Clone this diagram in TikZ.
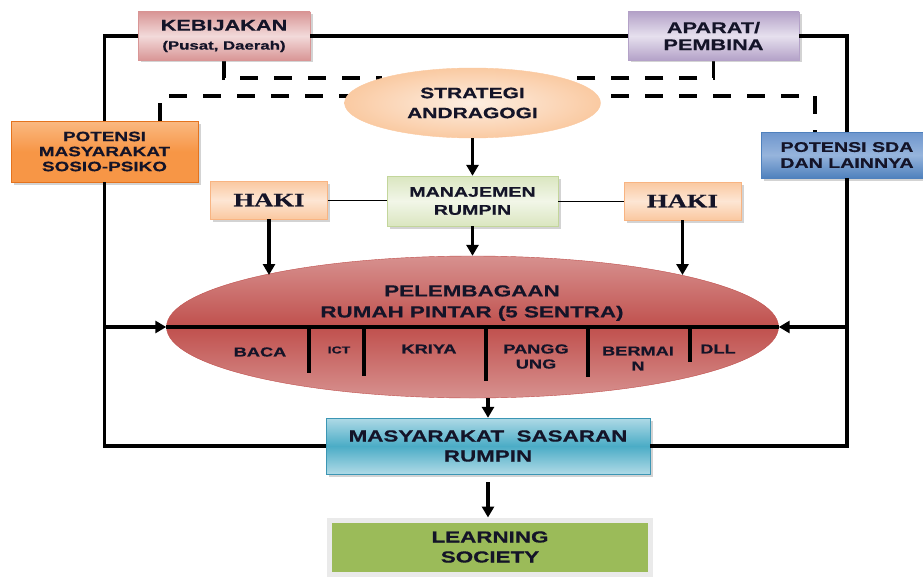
\documentclass[tikz,border=0pt]{standalone}
\usepackage{fontspec}
\usepackage{tikz}
\usetikzlibrary{positioning, arrows.meta, calc, shapes.geometric, shadows, backgrounds}
\setmainfont{Liberation Sans}[FakeStretch=1.4, BoldFeatures={FakeBold=0.6}]
\newfontfamily\hakifont{Liberation Serif}[FakeStretch=1.4, BoldFeatures={FakeBold=0.6}]
\definecolor{ink}{RGB}{20,20,40}
\definecolor{kebdark}{RGB}{217,150,150}
\definecolor{keblight}{RGB}{242,218,218}
\definecolor{apadark}{RGB}{180,162,200}
\definecolor{apalight}{RGB}{230,224,238}
\definecolor{strdark}{RGB}{250,202,162}
\definecolor{strlight}{RGB}{253,238,226}
\definecolor{pmtop}{RGB}{250,185,130}
\definecolor{pmmid}{RGB}{247,150,70}
\definecolor{pmedge}{RGB}{228,115,30}
\definecolor{sdatop}{RGB}{110,150,205}
\definecolor{sdamid}{RGB}{150,180,220}
\definecolor{sdabot}{RGB}{79,129,189}
\definecolor{hakiedge}{RGB}{248,180,130}
\definecolor{hakitop}{RGB}{250,200,160}
\definecolor{hakimid}{RGB}{253,230,212}
\definecolor{manedge}{RGB}{195,214,155}
\definecolor{mantop}{RGB}{218,230,192}
\definecolor{manmid}{RGB}{242,246,232}
\definecolor{peledge}{RGB}{215,145,143}
\definecolor{pelmid}{RGB}{192,80,77}
\definecolor{masedge}{RGB}{60,150,180}
\definecolor{mastop}{RGB}{175,218,230}
\definecolor{masmid}{RGB}{75,172,198}
\definecolor{lrnfill}{RGB}{155,187,89}
\definecolor{lrnedge}{RGB}{234,234,234}
\tikzset{
  box/.style={
    rectangle, thin, inner sep=0pt, align=center, text=ink,
    drop shadow={shadow xshift=2.5pt, shadow yshift=-2.5pt, opacity=0.35}
  },
  oval/.style={ellipse, thin, inner sep=0pt, align=center, text=ink},
  haki/.style={
    box, draw=hakiedge, top color=hakitop, bottom color=hakitop, middle color=hakimid,
    minimum width=117pt, minimum height=38pt,
    font=\hakifont\bfseries\fontsize{19}{22}\selectfont
  },
  sentra/.style={align=center, text=ink, font=\bfseries\fontsize{13}{15}\selectfont},
  arrow/.style={draw, line width=3.4pt, -{Triangle[length=11pt, width=12pt]}},
  frameline/.style={draw, line width=3.6pt},
  dashline/.style={draw, line width=3.4pt, dash pattern=on 18pt off 16pt},
  thinline/.style={draw, line width=1pt},
  divider/.style={draw, line width=3.4pt},
}

\begin{document}
\begin{tikzpicture}[x=1pt, y=-1pt]
  \useasboundingbox (0,0) rectangle (923,578);

  \node[box, draw=kebdark, top color=kebdark, bottom color=kebdark, middle color=keblight,
        minimum width=172pt, minimum height=48pt, font=\bfseries\fontsize{15.5}{19}\selectfont]
        (keb) at (224,36) {KEBIJAKAN\\{\fontsize{12}{14}\selectfont (Pusat, Daerah)}};
  \node[box, draw=apadark, top color=apadark, bottom color=apadark, middle color=apalight,
        minimum width=171pt, minimum height=48pt, font=\bfseries\fontsize{15.5}{17}\selectfont]
        (apa) at (713.5,36) {APARAT/\\PEMBINA};
  \node[oval, draw=strdark, inner color=strlight, outer color=strdark,
        minimum width=256pt, minimum height=70pt, font=\bfseries\fontsize{15}{20}\selectfont]
        (str) at (472.5,103) {STRATEGI\\ANDRAGOGI};
  \node[box, draw=pmedge, top color=pmtop, bottom color=pmmid, middle color=pmmid,
        minimum width=187pt, minimum height=61pt, font=\bfseries\fontsize{13.5}{15}\selectfont]
        (pm) at (104.5,151.5) {POTENSI\\MASYARAKAT\\SOSIO-PSIKO};
  \node[box, draw=sdabot, top color=sdatop, bottom color=sdabot, middle color=sdamid,
        minimum width=172pt, minimum height=46pt, font=\bfseries\fontsize{14}{16}\selectfont]
        (sda) at (847,155) {POTENSI SDA\\DAN LAINNYA};

  \node[haki] (hakil) at (269,200) {HAKI};
  \node[box, draw=manedge, top color=mantop, bottom color=mantop, middle color=manmid,
        minimum width=171pt, minimum height=50pt, font=\bfseries\fontsize{14}{18}\selectfont]
        (man) at (472.5,201) {MANAJEMEN\\RUMPIN};
  \node[haki] (hakir) at (682.5,201) {HAKI};

  \node[oval, draw=pelmid, top color=peledge, bottom color=peledge, middle color=pelmid,
        minimum width=612pt, minimum height=142pt] (pel) at (472.5,327) {};
  \node[align=center, text=ink, font=\bfseries\fontsize{16}{21}\selectfont]
        (pelt) at (472,303) {PELEMBAGAAN\\RUMAH PINTAR (5 SENTRA)};
  \node[sentra] (baca) at (260,352) {BACA};
  \node[sentra, font=\bfseries\fontsize{10}{12}\selectfont] (ict) at (339,350) {ICT};
  \node[sentra] (kriya) at (429,349) {KRIYA};
  \node[sentra] (panggung) at (536,356.5) {PANGG\\UNG};
  \node[sentra] (bermain) at (638,358.5) {BERMAI\\N};
  \node[sentra] (dll) at (718,349) {DLL};

  \node[box, draw=masedge, top color=mastop, bottom color=mastop, middle color=masmid,
        minimum width=324pt, minimum height=56pt, font=\bfseries\fontsize{16}{20}\selectfont]
        (mas) at (488,446) {MASYARAKAT\ \ SASARAN\\RUMPIN};
  \node[box, draw=lrnedge, line width=5pt, fill=lrnfill,
        drop shadow={shadow xshift=1.5pt, shadow yshift=-1.5pt, opacity=0.15},
        minimum width=321pt, minimum height=54pt, font=\bfseries\fontsize{16}{20}\selectfont]
        (lrn) at (490,547) {LEARNING\\SOCIETY};

  \coordinate (dl) at (160,96);
  \coordinate (dr) at (815,96);
  \coordinate (hl) at (269,275);
  \coordinate (hr) at (682.5,275);

  \begin{scope}[on background layer]
    \path[dashline] (keb.south) |- (str.north west);
    \path[dashline] (apa.south) |- (str.north east);
    \path[dashline] (dl |- pm.north) -- (dl) -- (dr) -- (dr |- sda.north);
  \end{scope}

  \path[frameline] (keb.west) -| (pm.north);
  \path[frameline] (keb.east) -- (apa.west);
  \path[frameline] (apa.east) -| (sda.north);
  \path[frameline] (pm.south) |- (mas.west);
  \path[frameline] (sda.south) |- (mas.east);
  \path[arrow] (pm.south |- pel.west) -- (pel.west);
  \path[arrow] (sda.south |- pel.east) -- (pel.east);

  \path[divider] (pel.west) -- (pel.east);
  \foreach \x/\y in {309/373, 364/376, 486/381, 588/377, 690/362}
    \path[divider] (\x,327) -- (\x,\y);

  \path[arrow] (str.south) -- (man.north);
  \path[thinline] (hakil.east) -- (hakil.east -| man.west);
  \path[thinline] (man.east) -- (man.east -| hakir.west);
  \path[arrow] (hakil.south) -- (hl);
  \path[arrow] (man.south) -- (pel.north);
  \path[arrow] (hakir.south) -- (hr);
  \path[arrow] (pel.south -| mas.north) -- (mas.north);
  \path[arrow, shorten <=8pt] (mas.south) -- (mas.south |- lrn.north);
\end{tikzpicture}
\end{document}
